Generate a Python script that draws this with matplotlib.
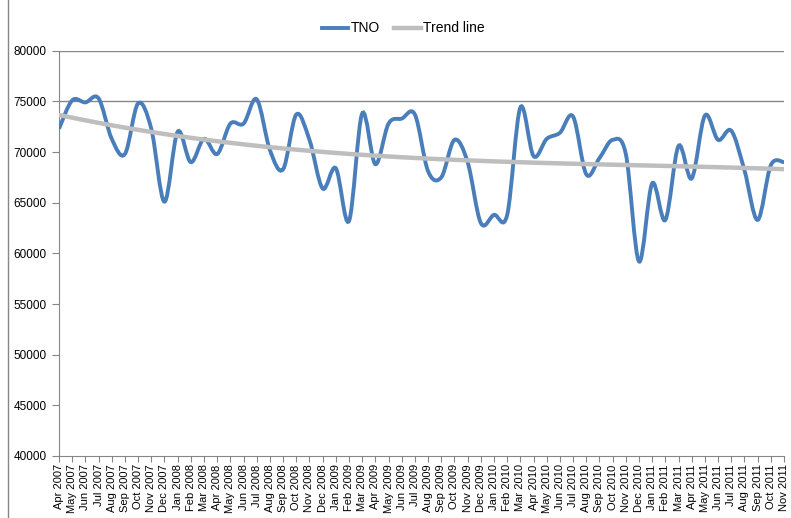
import numpy as np
import matplotlib.pyplot as plt
from matplotlib.path import Path
from matplotlib.patches import PathPatch
from matplotlib.lines import Line2D

plt.rcParams['font.family'] = ['Liberation Sans', 'DejaVu Sans']

months = ["Apr", "May", "Jun", "Jul", "Aug", "Sep", "Oct", "Nov", "Dec", "Jan", "Feb", "Mar"]
labels = []
y, m = 2007, 0
for k in range(56):
    if months[m] == "Jan":
        y += 1
    labels.append(months[m] + " " + str(y))
    m = (m + 1) % 12

tno = [72300, 75100, 74900, 75300, 71300, 69800, 74800, 72300, 65100, 72000,
       69000, 71300, 69800, 72800, 72800, 75200, 70200, 68300, 73700, 71200,
       66400, 68400, 63200, 73800, 68800, 72800, 73300, 73700, 68100, 67500,
       71200, 69000, 63000, 63800, 63800, 74400, 69600, 71300, 71900, 73500,
       67800, 69400, 71200, 69800, 59200, 66900, 63300, 70600, 67400, 73600,
       71200, 72100, 68200, 63300, 68700, 69000]

x = np.arange(len(tno))
yv = np.array(tno, dtype=float)

# polynomial (order 3) trend line
coef = np.polyfit(x + 1, yv, 3)
trend = np.polyval(coef, x + 1)

fig = plt.figure(figsize=(7.91, 5.18), dpi=100)
ax = fig.add_axes([59/791, 1-456/518, (784-59)/791, (456-50.7)/518])

# smoothed line (catmull-rom as bezier, like excel "smoothed line")
P = np.column_stack([x, yv])
verts = [P[0]]
codes = [Path.MOVETO]
n = len(P)
for i in range(n - 1):
    p0 = P[i-1] if i > 0 else P[i]
    p1 = P[i]
    p2 = P[i+1]
    p3 = P[i+2] if i + 2 < n else P[i+1]
    c1 = p1 + (p2 - p0) / 6.0
    c2 = p2 - (p3 - p1) / 6.0
    verts += [c1, c2, p2]
    codes += [Path.CURVE4] * 3
ax.add_patch(PathPatch(Path(verts, codes), facecolor='none', edgecolor='#4A7EBB', lw=2.8, zorder=3))

ax.plot(x, trend, color='#BEBEBE', lw=3.2, zorder=4)

ax.axhline(80000, color='#868686', lw=1, zorder=1)
ax.axhline(75000, color='#868686', lw=1, zorder=1)

ax.set_xlim(0, 55)
ax.set_ylim(40000, 80000)
ax.set_yticks(range(40000, 80001, 5000))
ax.set_xticks(x)
ax.set_xticklabels(labels, rotation=90, fontsize=8)
ax.tick_params(axis='y', labelsize=8.5, length=5, color='#868686', pad=4)
ax.tick_params(axis='x', length=4, color='#868686', pad=2)
for s in ['top', 'right']:
    ax.spines[s].set_visible(False)
for s in ['left', 'bottom']:
    ax.spines[s].set_color('#868686')

handles = [Line2D([], [], color='#4A7EBB', lw=2.8), Line2D([], [], color='#BEBEBE', lw=3.2)]
fig.legend(handles, ['TNO', 'Trend line'], loc='center', bbox_to_anchor=(0.51, 0.945),
           ncol=2, frameon=False, fontsize=10, handlelength=1.9, handletextpad=0.2, columnspacing=1.0)

fig.add_artist(Line2D([8/791, 8/791], [0, 1], color='#868686', lw=1))

fig.savefig('out.png', dpi=100)
